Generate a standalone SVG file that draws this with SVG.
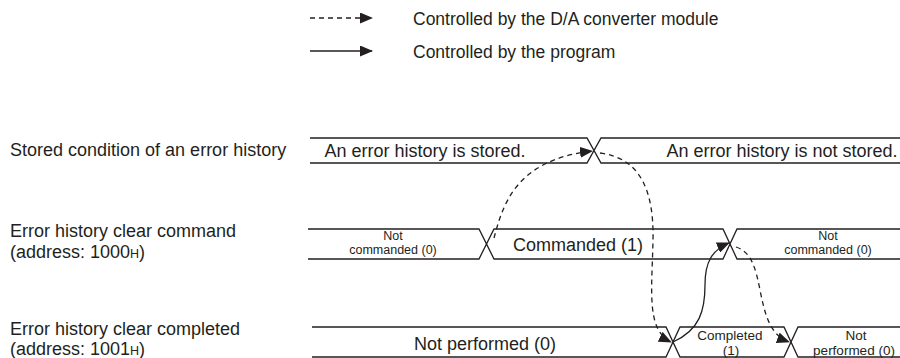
<svg xmlns="http://www.w3.org/2000/svg" width="900" height="358" viewBox="0 0 900 358">
<style>
text{font-family:"Liberation Sans",Arial,sans-serif;fill:#231f20}
.lbl{font-size:18px}
.lg{font-size:17.5px}
.st{font-size:18px;text-anchor:middle}
.sm{font-size:12.5px;text-anchor:middle}
.sm2{font-size:13.5px;text-anchor:middle}
.sub{font-size:12.5px}
.wave{fill:none;stroke:#231f20;stroke-width:1.3}
.con{fill:none;stroke:#231f20;stroke-width:1.3}
.dash{stroke-dasharray:5 4}
</style>
<defs>
<marker id="ah" viewBox="0 0 13 11" refX="12" refY="5.5" markerWidth="13" markerHeight="11" markerUnits="userSpaceOnUse" orient="auto">
<path d="M0,0 L13,5.5 L0,11 Z" fill="#231f20"/>
</marker>
</defs>
<g id="legend">
<line class="con dash" x1="310" y1="18" x2="372" y2="18" marker-end="url(#ah)"/>
<text class="lg" x="413" y="25">Controlled by the D/A converter module</text>
<line class="con" x1="310" y1="51" x2="372" y2="51" marker-end="url(#ah)"/>
<text class="lg" x="413" y="58">Controlled by the program</text>
</g>
<g id="row-stored">
<text class="lbl" x="10" y="156">Stored condition of an error history</text>
<path class="wave" d="M310,138 H587 L601,163 H900 M310,163 H587 L601,138 H900"/>
<text class="st" x="425" y="157">An error history is stored.</text>
<text class="st" x="782" y="157">An error history is not stored.</text>
</g>
<g id="row-command">
<text class="lbl" x="10" y="237">Error history clear command</text>
<text class="lbl" x="10" y="258">(address: 1000<tspan class="sub">H</tspan>)</text>
<path class="wave" d="M308,229 H479 L494,259 H723 L737,229 H900 M308,259 H479 L494,229 H723 L737,259 H900"/>
<text class="sm" x="393" y="239.5">Not</text>
<text class="sm" x="393" y="253.5">commanded (0)</text>
<text class="st" x="578" y="251">Commanded (1)</text>
<text class="sm" x="828" y="239.5">Not</text>
<text class="sm" x="828" y="253.5">commanded (0)</text>
</g>
<g id="row-completed">
<text class="lbl" x="10" y="335">Error history clear completed</text>
<text class="lbl" x="10" y="355">(address: 1001<tspan class="sub">H</tspan>)</text>
<path class="wave" d="M312,327 H666 L680,357 H784 L798,327 H900 M312,357 H666 L680,327 H784 L798,357 H900"/>
<text class="st" x="485" y="350">Not performed (0)</text>
<text class="sm2" x="730" y="339.5">Completed</text>
<text class="sm2" x="731" y="354.7">(1)</text>
<text class="sm2" x="856" y="339.5">Not</text>
<text class="sm2" x="854" y="354.7">performed (0)</text>
</g>
<g id="connectors">
<path class="con dash" d="M494,238 C503,205 515,160 592,151" marker-end="url(#ah)"/>
<path class="con dash" d="M600,153 C640,158 654,190 653,240 C652,290 646,330 671,342" marker-end="url(#ah)"/>
<path class="con" d="M673,342 C700,330 705,310 705,285 C705,262 712,250 729,243" marker-end="url(#ah)"/>
<path class="con dash" d="M736,247 C752,252 756,270 760,290 C765,315 770,335 789,342" marker-end="url(#ah)"/>
</g>
</svg>
